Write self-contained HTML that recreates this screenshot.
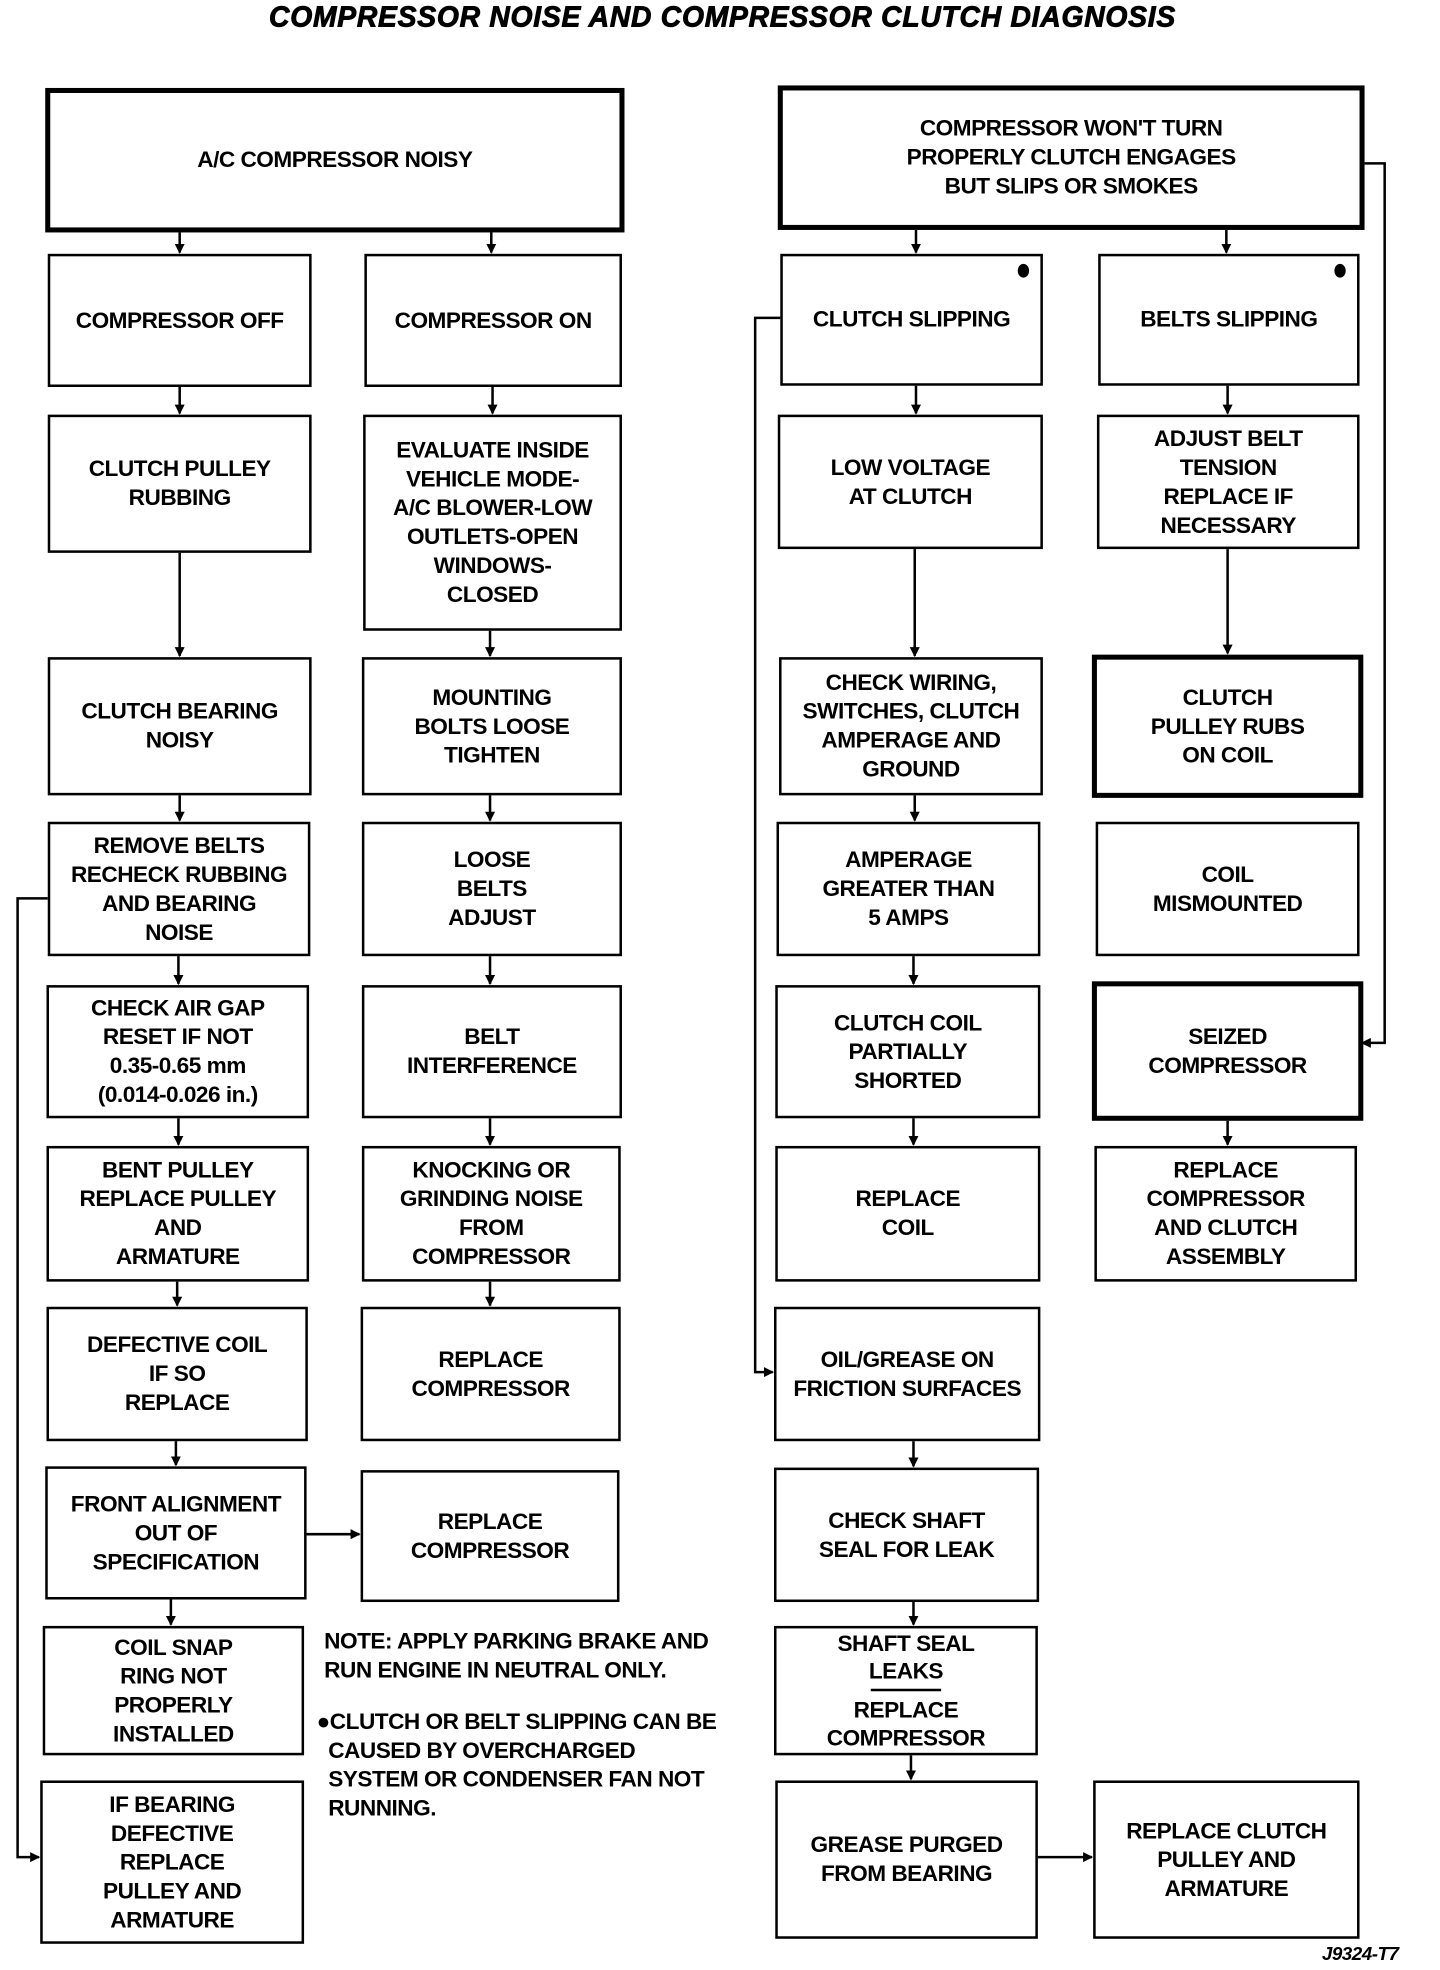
<!DOCTYPE html>
<html><head><meta charset="utf-8"><style>
html,body{margin:0;padding:0;background:#fff;}
body{width:1440px;height:1970px;overflow:hidden;position:relative;}
#w{position:absolute;left:0;top:0;width:1146px;height:1568px;transform:scale(1.2565);transform-origin:0 0;}
.b{position:absolute;box-sizing:border-box;border:2.5px solid #000;display:flex;align-items:center;justify-content:center;text-align:center;
font-family:"Liberation Sans Narrow","Liberation Sans",sans-serif;font-weight:bold;font-size:18px;line-height:23px;color:#000;letter-spacing:-0.4px;}
.t{border-width:4px;}
.dot{position:absolute;width:9px;height:11px;border-radius:50%;background:#000;top:6px;right:9px;}
.txt{position:absolute;font-family:"Liberation Sans Narrow","Liberation Sans",sans-serif;font-weight:bold;font-size:18px;line-height:23px;letter-spacing:-0.4px;}
svg{position:absolute;left:0;top:0;}
</style></head><body><div id="w">
<div class="txt" style="left:0;width:1150px;top:2px;text-align:center;font-family:'Liberation Sans',sans-serif;font-style:italic;font-weight:900;font-size:22.5px;letter-spacing:0.6px;-webkit-text-stroke:0.7px #000;">COMPRESSOR NOISE AND COMPRESSOR CLUTCH DIAGNOSIS</div>

<div class="b t" style="left:36px;top:70px;width:461px;height:115px;">A/C COMPRESSOR NOISY</div>
<div class="b t" style="left:619px;top:68px;width:467px;height:115px;">COMPRESSOR WON'T TURN<br>PROPERLY CLUTCH ENGAGES<br>BUT SLIPS OR SMOKES</div>

<div class="b" style="left:38px;top:202px;width:210px;height:106px;">COMPRESSOR OFF</div>
<div class="b" style="left:290px;top:202px;width:205px;height:106px;">COMPRESSOR ON</div>
<div class="b" style="left:621px;top:202px;width:209px;height:105px;">CLUTCH SLIPPING<span class="dot"></span></div>
<div class="b" style="left:874px;top:202px;width:208px;height:105px;">BELTS SLIPPING<span class="dot"></span></div>

<div class="b" style="left:38px;top:330px;width:210px;height:110px;">CLUTCH PULLEY<br>RUBBING</div>
<div class="b" style="left:289px;top:330px;width:206px;height:172px;">EVALUATE INSIDE<br>VEHICLE MODE-<br>A/C BLOWER-LOW<br>OUTLETS-OPEN<br>WINDOWS-<br>CLOSED</div>
<div class="b" style="left:619px;top:330px;width:211px;height:107px;">LOW VOLTAGE<br>AT CLUTCH</div>
<div class="b" style="left:873px;top:330px;width:209px;height:107px;">ADJUST BELT<br>TENSION<br>REPLACE IF<br>NECESSARY</div>

<div class="b" style="left:38px;top:523px;width:210px;height:110px;">CLUTCH BEARING<br>NOISY</div>
<div class="b" style="left:288px;top:523px;width:207px;height:110px;">MOUNTING<br>BOLTS LOOSE<br>TIGHTEN</div>
<div class="b" style="left:620px;top:523px;width:210px;height:110px;">CHECK WIRING,<br>SWITCHES, CLUTCH<br>AMPERAGE AND<br>GROUND</div>
<div class="b t" style="left:869px;top:521px;width:216px;height:114px;">CLUTCH<br>PULLEY RUBS<br>ON COIL</div>

<div class="b" style="left:38px;top:654px;width:209px;height:107px;">REMOVE BELTS<br>RECHECK RUBBING<br>AND BEARING<br>NOISE</div>
<div class="b" style="left:288px;top:654px;width:207px;height:107px;">LOOSE<br>BELTS<br>ADJUST</div>
<div class="b" style="left:618px;top:654px;width:210px;height:107px;">AMPERAGE<br>GREATER THAN<br>5 AMPS</div>
<div class="b" style="left:872px;top:654px;width:210px;height:107px;">COIL<br>MISMOUNTED</div>

<div class="b" style="left:37px;top:784px;width:209px;height:106px;">CHECK AIR GAP<br>RESET IF NOT<br>0.35-0.65 mm<br>(0.014-0.026 in.)</div>
<div class="b" style="left:288px;top:784px;width:207px;height:106px;">BELT<br>INTERFERENCE</div>
<div class="b" style="left:617px;top:784px;width:211px;height:106px;">CLUTCH COIL<br>PARTIALLY<br>SHORTED</div>
<div class="b t" style="left:869px;top:781px;width:216px;height:111px;">SEIZED<br>COMPRESSOR</div>

<div class="b" style="left:37px;top:912px;width:209px;height:108px;">BENT PULLEY<br>REPLACE PULLEY<br>AND<br>ARMATURE</div>
<div class="b" style="left:288px;top:912px;width:206px;height:108px;">KNOCKING OR<br>GRINDING NOISE<br>FROM<br>COMPRESSOR</div>
<div class="b" style="left:617px;top:912px;width:211px;height:108px;">REPLACE<br>COIL</div>
<div class="b" style="left:871px;top:912px;width:209px;height:108px;">REPLACE<br>COMPRESSOR<br>AND CLUTCH<br>ASSEMBLY</div>

<div class="b" style="left:37px;top:1040px;width:208px;height:107px;">DEFECTIVE COIL<br>IF SO<br>REPLACE</div>
<div class="b" style="left:287px;top:1040px;width:207px;height:107px;">REPLACE<br>COMPRESSOR</div>
<div class="b" style="left:616px;top:1040px;width:212px;height:107px;">OIL/GREASE ON<br>FRICTION SURFACES</div>

<div class="b" style="left:36px;top:1167px;width:208px;height:106px;">FRONT ALIGNMENT<br>OUT OF<br>SPECIFICATION</div>
<div class="b" style="left:287px;top:1170px;width:206px;height:105px;">REPLACE<br>COMPRESSOR</div>
<div class="b" style="left:616px;top:1168px;width:211px;height:107px;">CHECK SHAFT<br>SEAL FOR LEAK</div>

<div class="b" style="left:34px;top:1294px;width:208px;height:103px;">COIL SNAP<br>RING NOT<br>PROPERLY<br>INSTALLED</div>
<div class="b" style="left:616px;top:1294px;width:210px;height:103px;flex-direction:column;line-height:22px;"><div>SHAFT SEAL<br>LEAKS</div><div style="width:56px;border-top:2.5px solid #000;margin:3px 0 4px;"></div><div>REPLACE<br>COMPRESSOR</div></div>

<div class="b" style="left:32px;top:1417px;width:210px;height:130px;">IF BEARING<br>DEFECTIVE<br>REPLACE<br>PULLEY AND<br>ARMATURE</div>
<div class="b" style="left:617px;top:1417px;width:209px;height:126px;">GREASE PURGED<br>FROM BEARING</div>
<div class="b" style="left:870px;top:1417px;width:212px;height:126px;">REPLACE CLUTCH<br>PULLEY AND<br>ARMATURE</div>

<div class="txt" style="left:258px;top:1295px;">NOTE: APPLY PARKING BRAKE AND<br>RUN ENGINE IN NEUTRAL ONLY.</div>
<div class="txt" style="left:252px;top:1359px;">●CLUTCH OR BELT SLIPPING CAN BE<br>&nbsp;&nbsp;CAUSED BY OVERCHARGED<br>&nbsp;&nbsp;SYSTEM OR CONDENSER FAN NOT<br>&nbsp;&nbsp;RUNNING.</div>
<div class="txt" style="left:1052px;top:1544px;font-style:italic;font-size:15px;">J9324-T7</div>

<svg width="1146" height="1568" viewBox="0 0 1146 1568">
<defs><marker id="a" markerWidth="8" markerHeight="8" refX="7" refY="4" orient="auto" markerUnits="userSpaceOnUse"><path d="M0,0 L8,4 L0,8 z" fill="#000"/></marker></defs>
<g stroke="#000" stroke-width="2" fill="none" marker-end="url(#a)">
<line x1="143" y1="185" x2="143" y2="201"/><line x1="391" y1="185" x2="391" y2="201"/>
<line x1="729" y1="183" x2="729" y2="201"/><line x1="976" y1="183" x2="976" y2="201"/>
<line x1="143" y1="308" x2="143" y2="329"/><line x1="143" y1="440" x2="143" y2="522"/><line x1="143" y1="633" x2="143" y2="653"/>
<line x1="142" y1="761" x2="142" y2="783"/><line x1="142" y1="890" x2="142" y2="911"/><line x1="141" y1="1020" x2="141" y2="1039"/>
<line x1="140" y1="1147" x2="140" y2="1166"/><line x1="136" y1="1273" x2="136" y2="1293"/>
<line x1="392" y1="308" x2="392" y2="329"/><line x1="390" y1="502" x2="390" y2="522"/><line x1="390" y1="633" x2="390" y2="653"/>
<line x1="390" y1="761" x2="390" y2="783"/><line x1="390" y1="890" x2="390" y2="911"/><line x1="390" y1="1020" x2="390" y2="1039"/>
<line x1="729" y1="307" x2="729" y2="329"/><line x1="728" y1="437" x2="728" y2="522"/><line x1="728" y1="633" x2="728" y2="653"/>
<line x1="727" y1="761" x2="727" y2="783"/><line x1="727" y1="890" x2="727" y2="911"/><line x1="727" y1="1147" x2="727" y2="1167"/>
<line x1="727" y1="1275" x2="727" y2="1293"/><line x1="725" y1="1397" x2="725" y2="1416"/>
<line x1="977" y1="307" x2="977" y2="329"/><line x1="977" y1="437" x2="977" y2="520"/><line x1="977" y1="892" x2="977" y2="911"/>
<line x1="244" y1="1221" x2="286" y2="1221"/><line x1="826" y1="1478" x2="869" y2="1478"/>
<polyline points="38,715 14,715 14,1478 31,1478"/>
<polyline points="621,253 601,253 601,1092 615,1092"/>
<polyline points="1086,130 1102,130 1102,830 1084,830"/>
</g>
</svg>
</div></body></html>
